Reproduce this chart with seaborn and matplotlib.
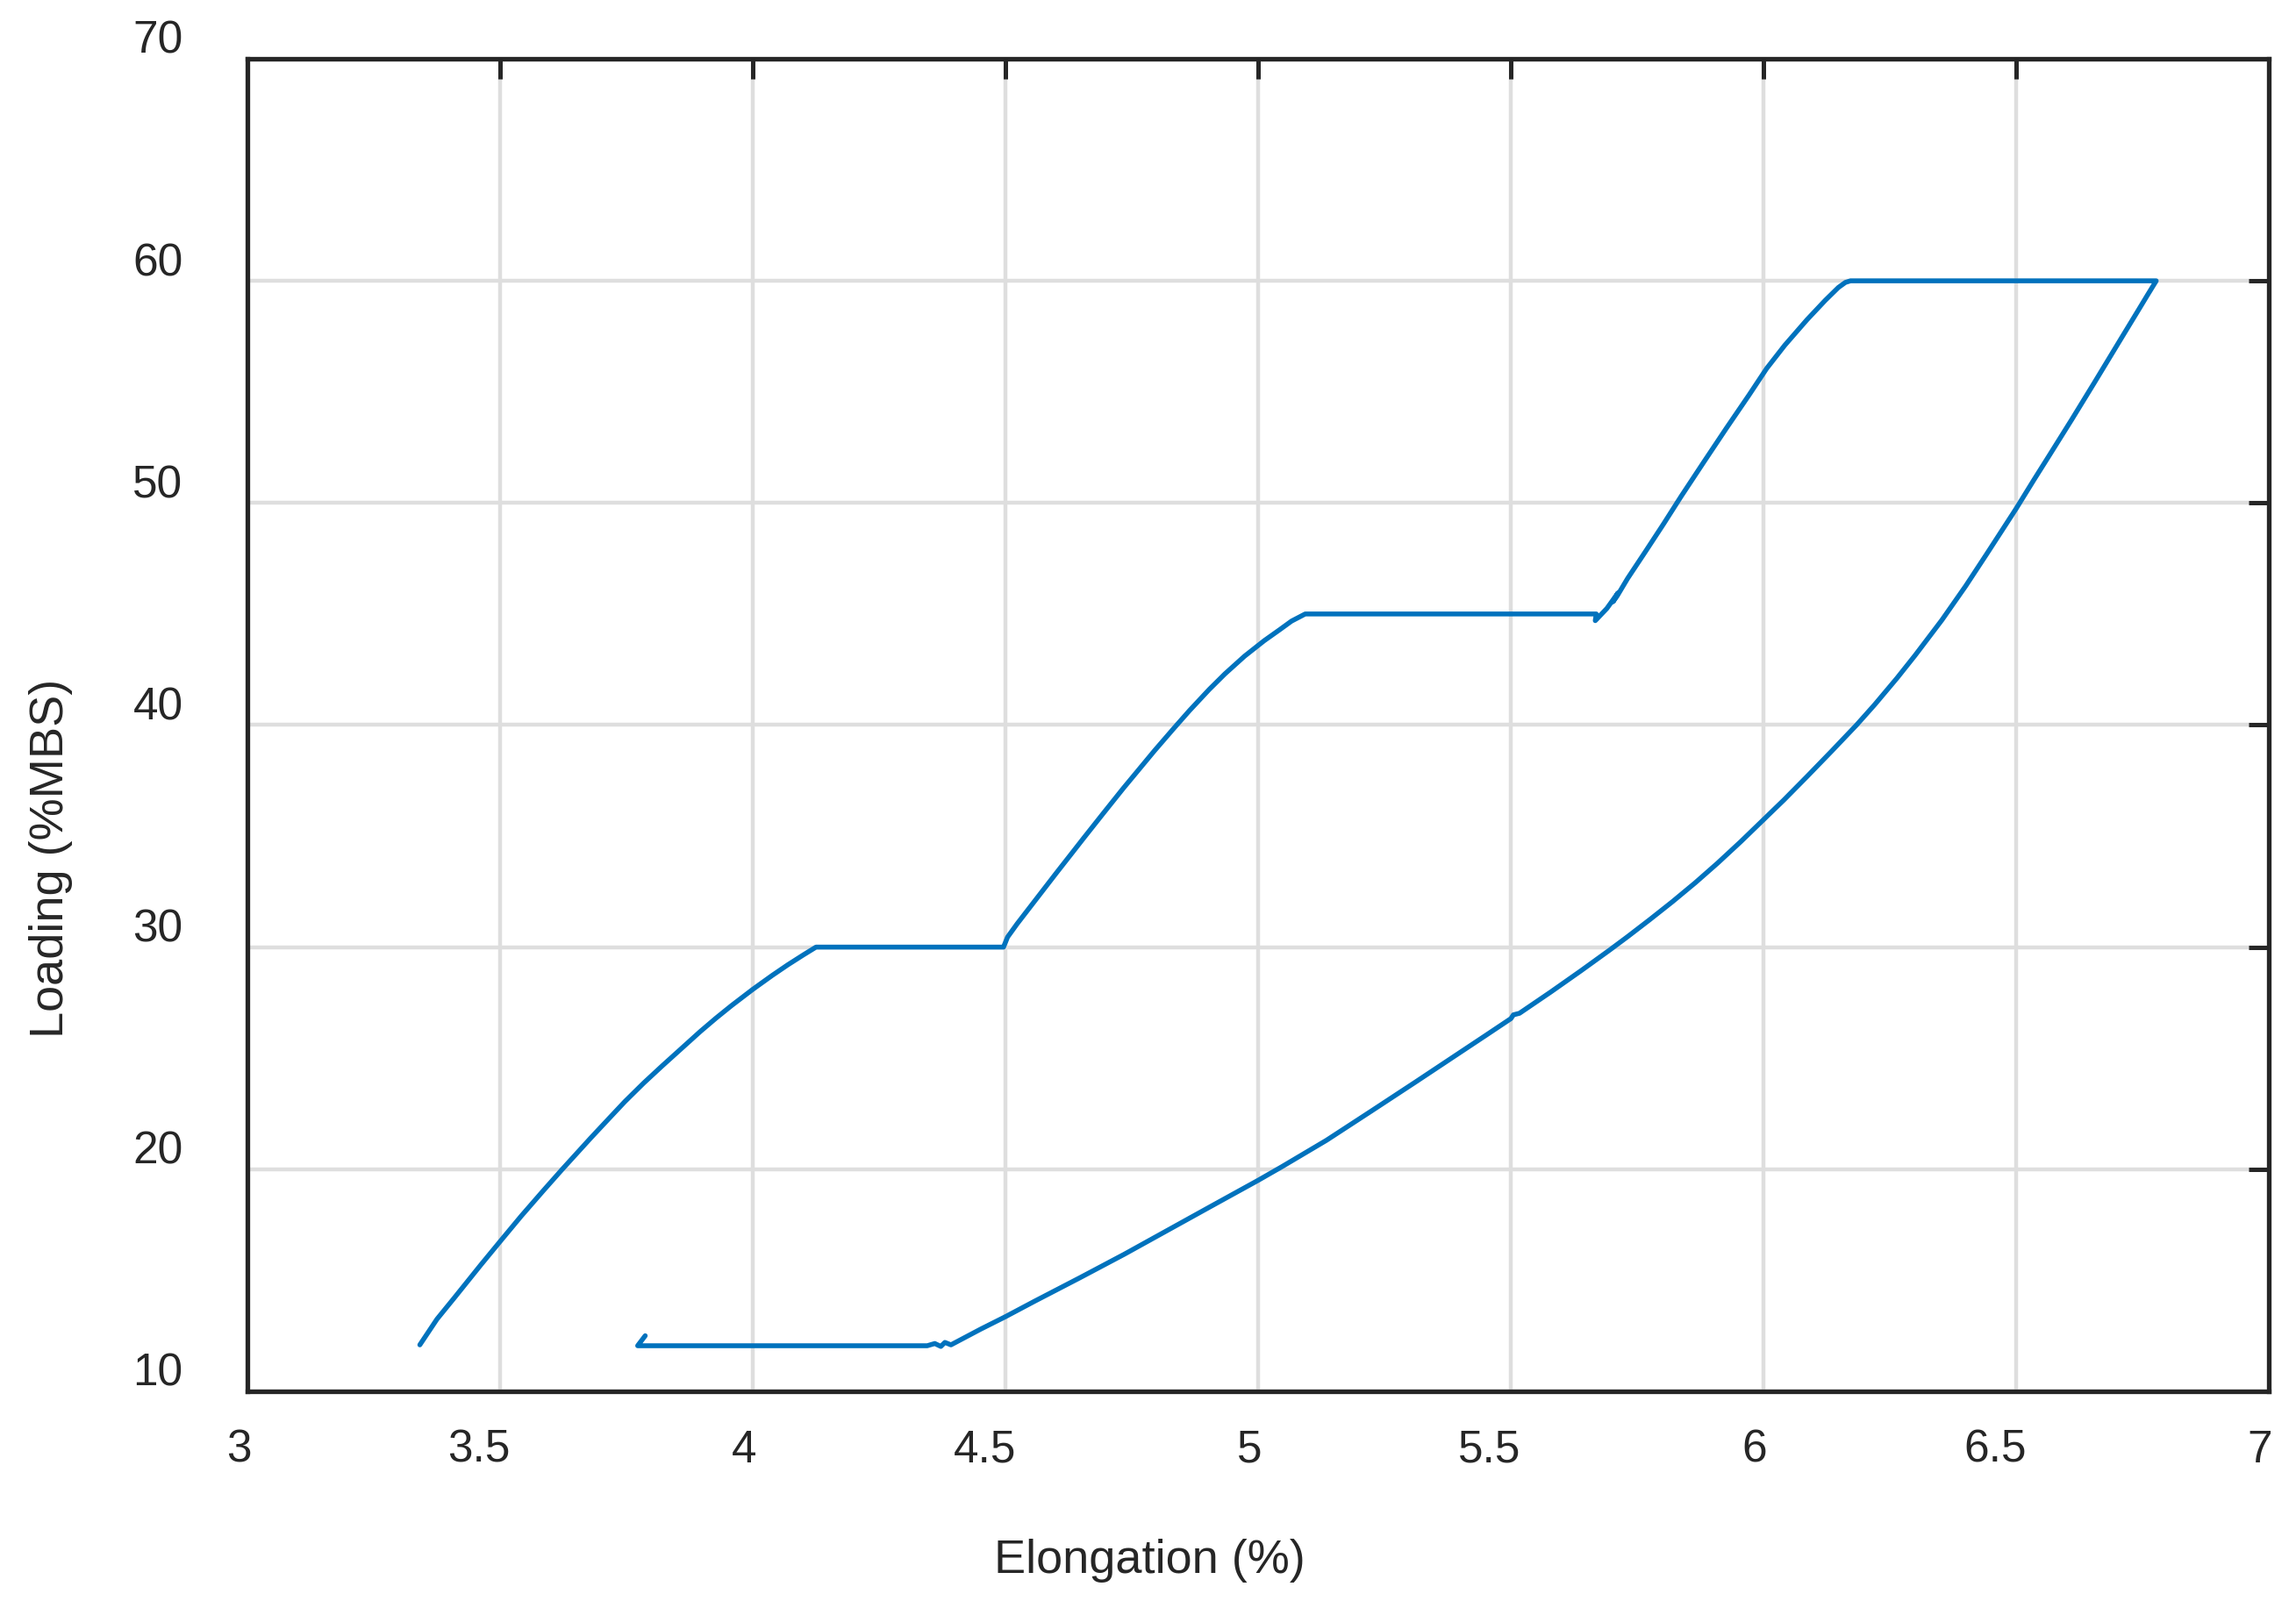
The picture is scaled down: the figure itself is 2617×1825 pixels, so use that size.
import matplotlib
matplotlib.use("Agg")
import matplotlib.pyplot as plt
import matplotlib.transforms as mtransforms
import pandas as pd
import seaborn as sns

# cyclic load test, points in recorded order
# load 30%, hold, load 45%, hold, load 60%, hold, unload, hold low
elongation = [
    3.341, 3.375, 3.409, 3.462, 3.500, 3.542, 3.586, 3.623, 3.679, 3.716,
    3.747, 3.784, 3.821, 3.859, 3.896, 3.927, 3.958, 4.000, 4.038, 4.069,
    4.100, 4.125,
    4.496,
    4.504, 4.523, 4.562, 4.601, 4.632, 4.655, 4.694, 4.733, 4.764, 4.795,
    4.833, 4.864, 4.903, 4.934, 4.973, 5.012, 5.043, 5.066, 5.093,
    5.669, 5.667, 5.690, 5.712, 5.702, 5.710,
    5.731, 5.766, 5.802, 5.837, 5.882, 5.926, 5.971, 6.006, 6.042, 6.086,
    6.122, 6.148, 6.162, 6.172,
    6.777,
    6.760, 6.743, 6.708, 6.655, 6.610, 6.566, 6.535, 6.500, 6.441, 6.400,
    6.353, 6.300, 6.264, 6.220, 6.184, 6.135, 6.086, 6.040, 6.000, 5.955,
    5.909, 5.865, 5.820, 5.775, 5.731, 5.695, 5.639, 5.579, 5.517, 5.505,
    5.500, 5.450, 5.401, 5.313, 5.224, 5.135, 5.046, 5.000, 4.913, 4.824,
    4.735, 4.647, 4.558, 4.500, 4.451, 4.392, 4.380, 4.372, 4.360, 4.345,
    3.772, 3.787,
]
loading = [
    12.09, 13.25, 14.20, 15.70, 16.75, 17.90, 19.05, 20.00, 21.40, 22.30,
    23.05, 23.88, 24.66, 25.44, 26.20, 26.80, 27.37, 28.10, 28.72, 29.20,
    29.65, 30.00,
    30.00,
    30.45, 31.05, 32.20, 33.35, 34.25, 34.92, 36.04, 37.15, 38.00, 38.85,
    39.85, 40.65, 41.60, 42.30, 43.10, 43.80, 44.30, 44.68, 45.00,
    45.00, 44.70, 45.25, 45.95, 45.55, 45.80,
    46.60, 47.80, 49.05, 50.30, 51.85, 53.35, 54.85, 56.05, 57.10, 58.25,
    59.12, 59.70, 59.93, 60.00,
    60.00,
    59.37, 58.73, 57.42, 55.43, 53.76, 52.16, 51.04, 49.75, 47.68, 46.26,
    44.73, 43.14, 42.11, 40.92, 40.00, 38.83, 37.68, 36.62, 35.74, 34.75,
    33.78, 32.90, 32.05, 31.24, 30.47, 29.86, 28.94, 27.98, 27.02, 26.95,
    26.78, 26.02, 25.28, 23.95, 22.62, 21.30, 20.10, 19.50, 18.41, 17.29,
    16.17, 15.11, 14.06, 13.36, 12.80, 12.09, 12.20, 12.02, 12.15, 12.05,
    12.05, 12.50,
]

x_ticks = [3, 3.5, 4, 4.5, 5, 5.5, 6, 6.5, 7]
x_tick_labels = ["3", "3.5", "4", "4.5", "5", "5.5", "6", "6.5", "7"]
y_ticks = [10, 20, 30, 40, 50, 60, 70]
y_tick_labels = ["10", "20", "30", "40", "50", "60", "70"]

sns.set_style("white")
plt.rcParams['font.family'] = ['Liberation Sans', 'DejaVu Sans']

ink = '#262626'
fig = plt.figure(figsize=(26.17, 18.25), dpi=100)
ax = fig.add_axes([0.1078, 0.1310, 0.8804, 0.8323])

df = pd.DataFrame({"elongation": elongation, "loading": loading})
sns.lineplot(data=df, x="elongation", y="loading", sort=False, estimator=None,
             color='#0072BD', ax=ax)
for ln in ax.lines:
    ln.set_linewidth(4)
    ln.set_solid_joinstyle('round')

ax.set_xlim(3, 7)
ax.set_ylim(10, 70)
ax.set_xticks(x_ticks)
ax.set_xticklabels(x_tick_labels)
ax.set_yticks(y_ticks)
ax.set_yticklabels(y_tick_labels)

ax.grid(True, color='#dedede', linewidth=3.2)
ax.set_axisbelow(True)
for sp in ax.spines.values():
    sp.set_visible(True)
    sp.set_color(ink)
    sp.set_linewidth(3.8)

ax.tick_params(axis='both', direction='in', length=16.5, width=3.6, color=ink,
               labelsize=37, labelcolor=ink, top=True, right=True)
ax.tick_params(axis='x', pad=31)
ax.tick_params(axis='y', pad=53)

# tick labels sit a little off their ticks, like the original export
for lab in ax.get_xticklabels():
    dx = -10 if len(lab.get_text()) == 1 else -24
    lab.set_transform(lab.get_transform() + mtransforms.ScaledTranslation(dx / 100, 0, fig.dpi_scale_trans))
for lab in ax.get_yticklabels():
    lab.set_transform(lab.get_transform() + mtransforms.ScaledTranslation(0, 25 / 100, fig.dpi_scale_trans))

ax.set_xlabel("Elongation (%)", fontsize=39, color=ink)
ax.set_ylabel("Loading (%MBS)", fontsize=39, color=ink)
ax.xaxis.label.set_va('baseline')
ax.xaxis.set_label_coords(1310 / 2617, 1 - 1793 / 1825, transform=fig.transFigure)
ax.yaxis.set_label_coords(83 / 2617, 1 - 978 / 1825, transform=fig.transFigure)

fig.savefig("out.png", dpi=100)
